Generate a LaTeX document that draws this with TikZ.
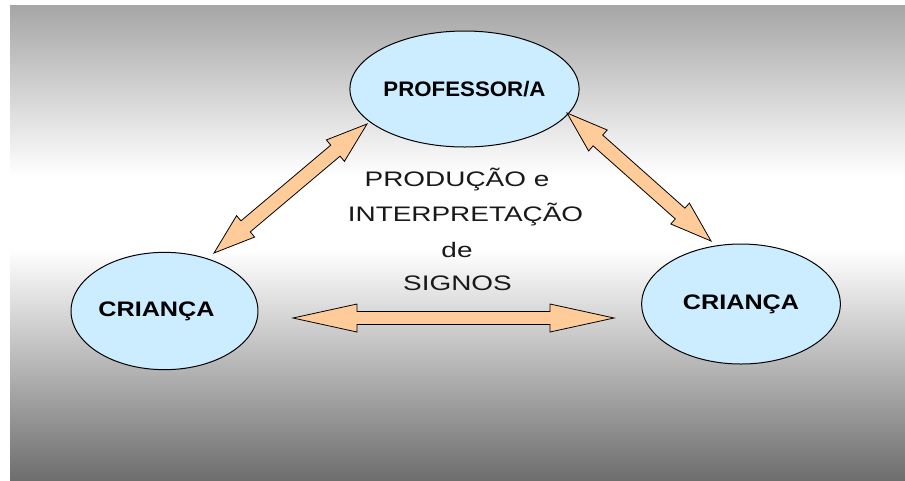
\documentclass[tikz,border=0pt]{standalone}
\usepackage{fontspec}
\setmainfont{Liberation Sans}
\newfontfamily\centerfont[FakeStretch=1.33]{Liberation Sans}
\newfontfamily\profont[FakeStretch=1.06]{Liberation Sans}
\newfontfamily\kidfont[FakeStretch=1.2]{Liberation Sans}
\usetikzlibrary{calc,shapes.geometric}
\definecolor{ellfill}{HTML}{CCECFF}
\definecolor{arrfill}{HTML}{FFCC99}
\definecolor{bgtop}{gray}{0.65}
\definecolor{bgbot}{gray}{0.43}
\tikzset{
  ell/.style={ellipse, draw=black, line width=0.75pt, fill=ellfill, inner sep=0pt},
  boldlbl/.style={font=\fontsize{15.75}{18}\selectfont\bfseries},
  centerlbl/.style={font=\centerfont\fontsize{15.75}{18}\selectfont, text=black!90, inner sep=0pt, anchor=base},
  arrowsty/.style={draw=black, line width=0.6pt, fill=arrfill, line join=miter}
}
% #1 start, #2 end, #3 head length, #4 head half width, #5 shaft half width (pt)
\newcommand\blockarrow[5]{%
  \path (#1); \pgfgetlastxy{\bax}{\bay}%
  \path (#2); \pgfgetlastxy{\bbx}{\bby}%
  \pgfmathsetmacro\blen{veclen(\bbx-\bax,\bby-\bay)}%
  \pgfmathsetmacro\bang{atan2(\bby-\bay,\bbx-\bax)}%
  \pgfmathsetmacro\bmid{\blen-#3}%
  \begin{scope}[shift={(#1)},rotate=\bang]
    \draw[arrowsty] (0pt,0pt) -- (#3pt,#4pt) -- (#3pt,#5pt) -- (\bmid pt,#5pt)
      -- (\bmid pt,#4pt) -- (\blen pt,0pt) -- (\bmid pt,-#4pt) -- (\bmid pt,-#5pt)
      -- (#3pt,-#5pt) -- (#3pt,-#4pt) -- cycle;
  \end{scope}}
\begin{document}
\begin{tikzpicture}[x=0.75pt,y=-0.75pt]
\useasboundingbox (0,0) rectangle (905,480);
\fill[white] (0,0) rectangle (905,480);
\shade[top color=bgtop, bottom color=white] (10,5) rectangle (905,176);
\fill[white] (10,175) rectangle (905,251);
\shade[top color=white, bottom color=bgbot] (10,250) rectangle (905,480);

% nodes
\node[ell, boldlbl, minimum width=139pt, minimum height=87pt] (prof) at (464.5,89) {\profont PROFESSOR/A};
\node[ell, boldlbl, minimum width=139pt, minimum height=88pt] (kidL) at (164.5,311) {\kidfont CRIANÇA\kern12pt};
\node[ell, boldlbl, minimum width=149pt, minimum height=90pt] (kidR) at (741,304) {\kidfont CRIANÇA};

% central text
\node[centerlbl] (t1) at (457,186) {PRODUÇÃO e};
\node[centerlbl] (t2) at (465.5,221) {INTERPRETAÇÃO};
\node[centerlbl] (t3) at (457,257) {de};
\node[centerlbl] (t4) at (457.5,290) {SIGNOS};

% arrow end points
\coordinate (hA) at (293,318);
\coordinate (hB) at (614,318);
\coordinate (lA) at (214,253);
\coordinate (lB) at (367,124);
\coordinate (rA) at (567,113);
\coordinate (rB) at (711,241);

\blockarrow{hA}{hB}{48}{10.5}{4.9}
\blockarrow{lA}{lB}{31}{10.5}{5.4}
\blockarrow{rA}{rB}{31}{10.5}{5.4}
\end{tikzpicture}
\end{document}
